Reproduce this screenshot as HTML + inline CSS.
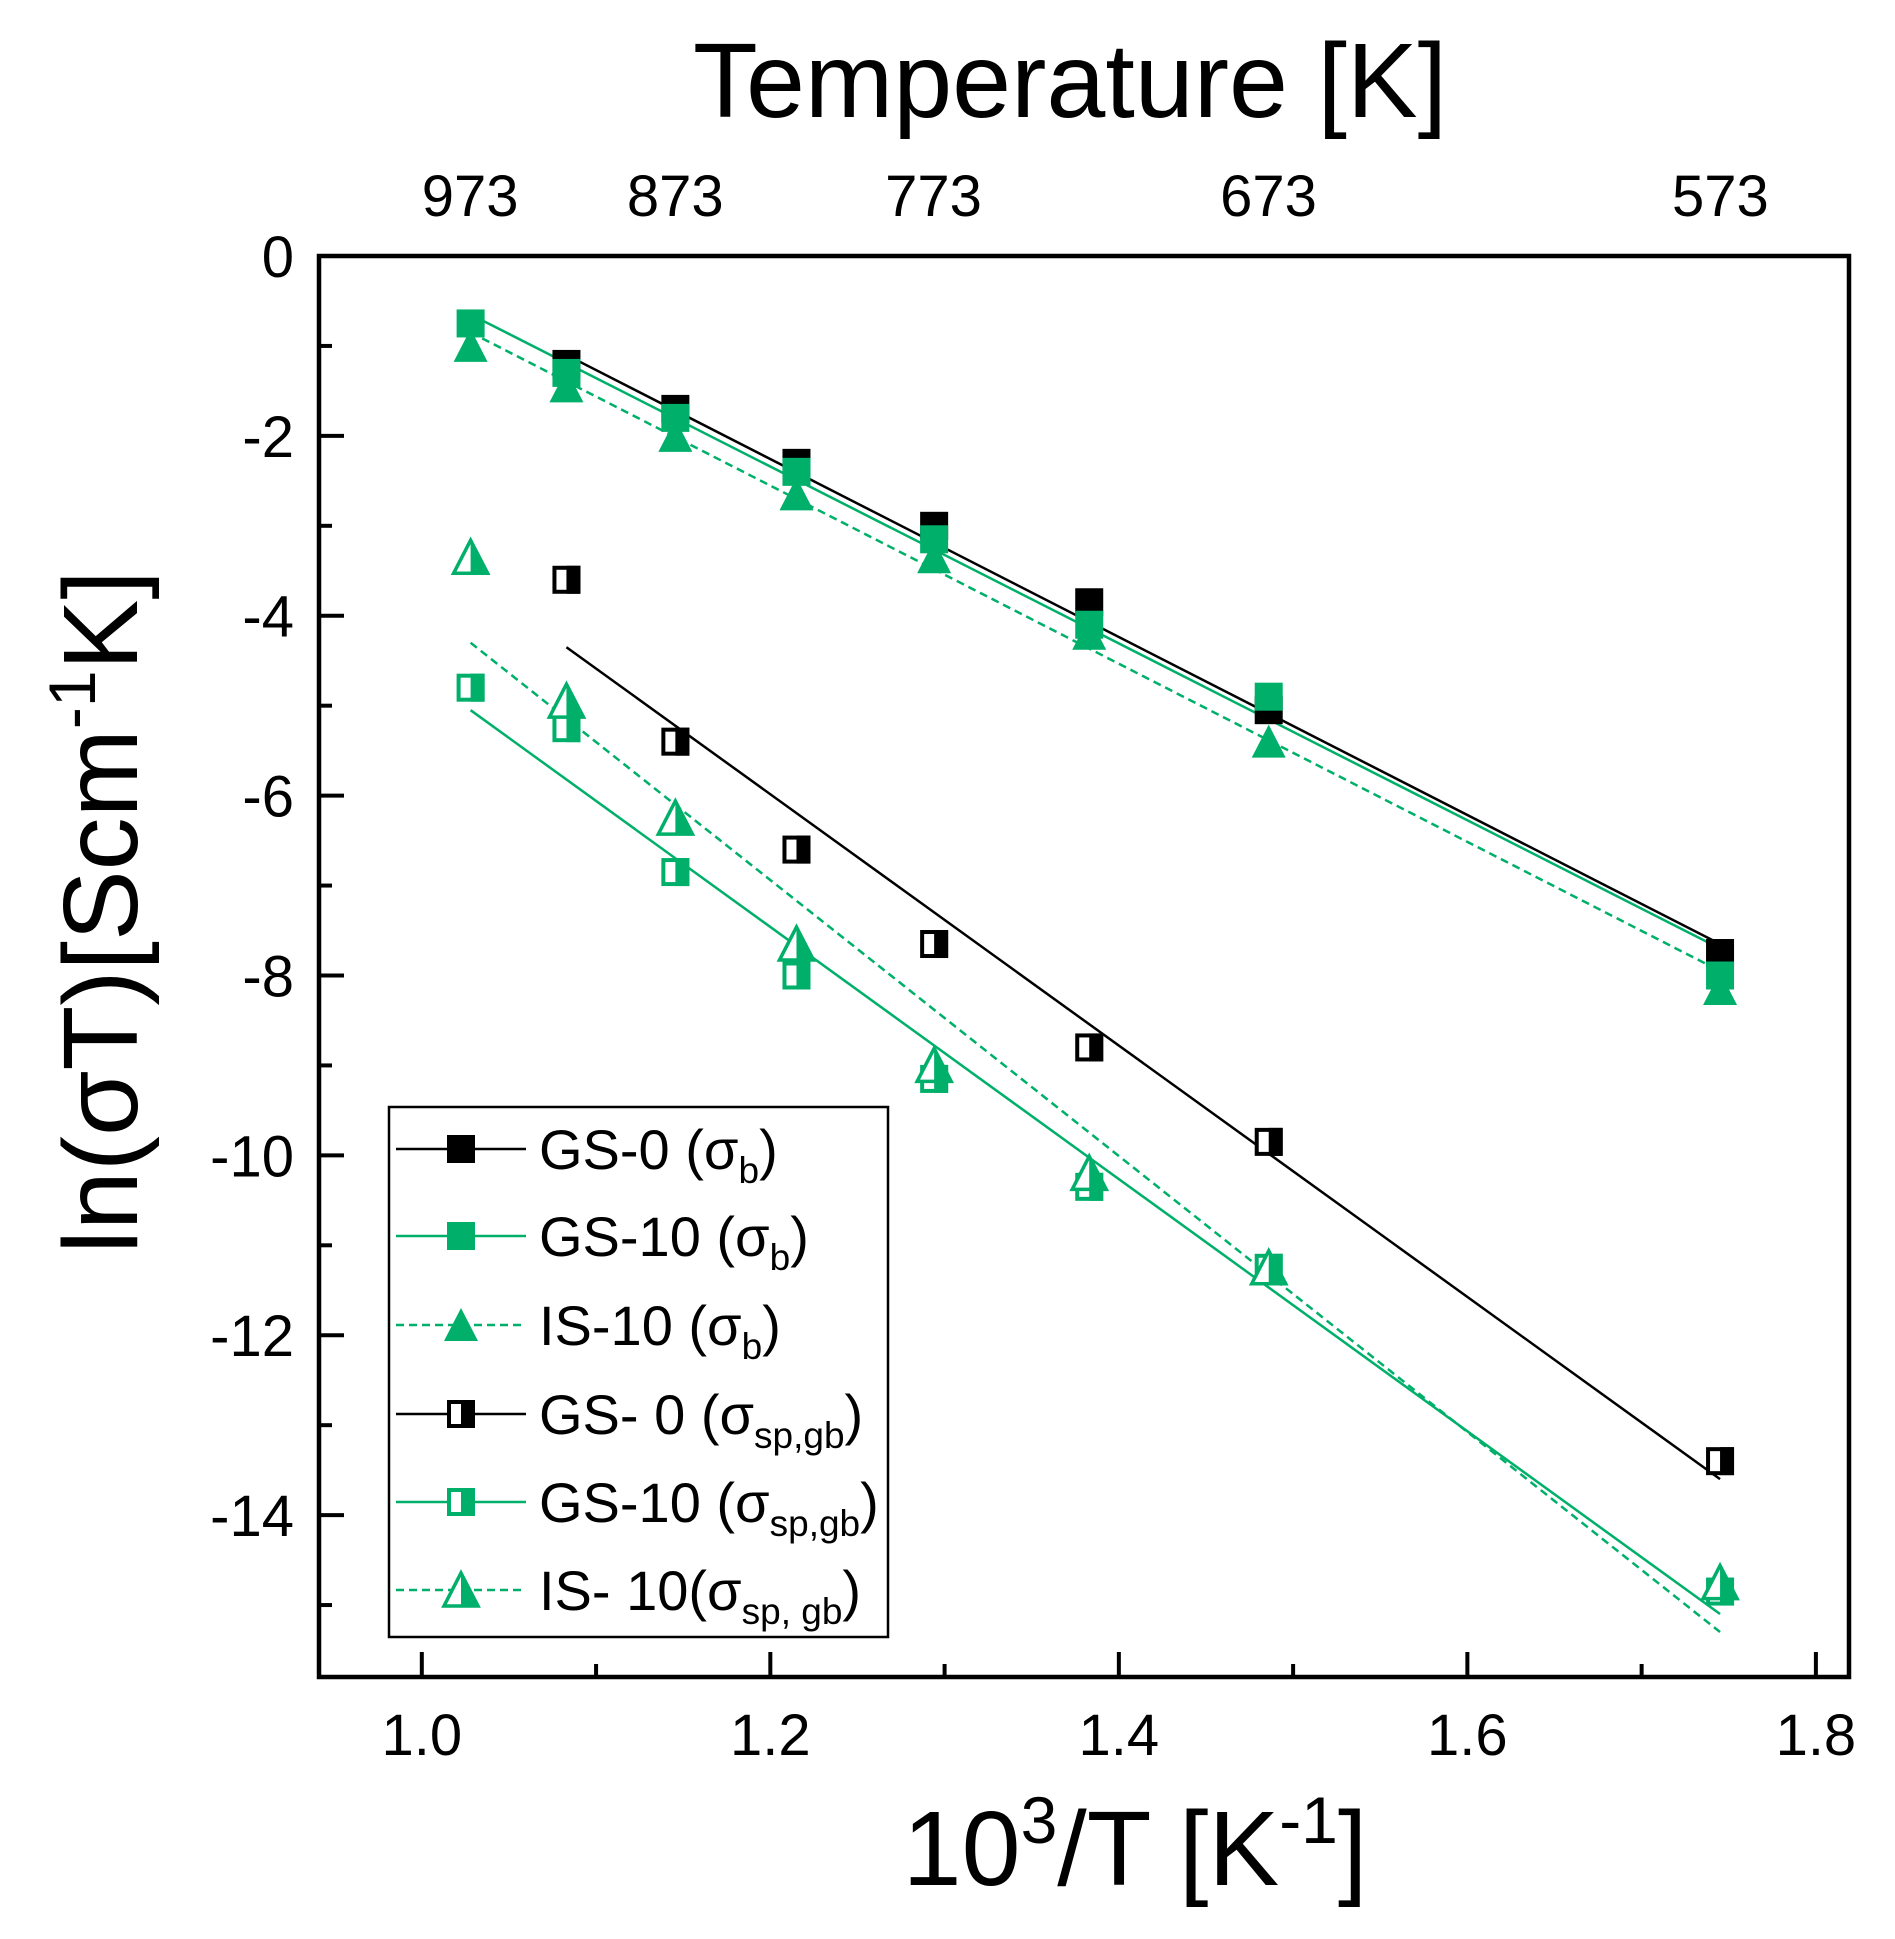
<!DOCTYPE html>
<html><head><meta charset="utf-8"><style>
html,body{margin:0;padding:0;background:#fff}
svg{display:block;font-family:"Liberation Sans",Arial,sans-serif}
</style></head><body>
<svg id="chart" width="1895" height="1939" viewBox="0 0 1895 1939" xmlns="http://www.w3.org/2000/svg">
<g id="plot"></g>
</svg>
<script>
const xs = [1.028, 1.083, 1.1455, 1.215, 1.294, 1.383, 1.486, 1.745];
const gs0b = [null, -1.2, -1.7, -2.3, -3.0, -3.85, -5.05, -7.75];
const gs10b = [-0.75, -1.3, -1.8, -2.4, -3.15, -4.1, -4.9, -8.0];
const is10b = [-1.0, -1.45, -2.0, -2.65, -3.35, -4.2, -5.4, -8.15];
const gs0gb = [null, -3.6, -5.4, -6.6, -7.65, -8.8, -9.85, -13.4];
const gs10gb = [-4.8, -5.25, -6.85, -8.0, -9.15, -10.35, -11.25, -14.85];
const is10gb = [-3.35, -4.95, -6.25, -7.65, -9.0, -10.2, -11.25, -14.75];
const fitX = [[1.083,1.745],[1.028,1.745],[1.028,1.745],[1.083,1.745],[1.028,1.745],[1.028,1.745]];
const fitY = [[-1.1,-7.65],[-0.65,-7.7],[-0.85,-7.95],[-4.35,-13.6],[-5.05,-15.1],[-4.3,-15.3]];
const xTicks = [1.0, 1.2, 1.4, 1.6, 1.8];
const yTicks = [0, -2, -4, -6, -8, -10, -12, -14];
const topTemps = [973, 873, 773, 673, 573];

const G = '#00b06a';
const X0 = 319, X1 = 1849, Y0 = 256, Y1 = 1677;
const xmin = 0.941, xmax = 1.819, ymin = -15.8, ymax = 0;
const sx = v => X0 + (v - xmin) / (xmax - xmin) * (X1 - X0);
const sy = v => Y0 + (ymax - v) / (ymax - ymin) * (Y1 - Y0);
const NS = 'http://www.w3.org/2000/svg';
const svg = document.getElementById('chart');
function mk(tag, attrs, parent) {
  const e = document.createElementNS(NS, tag);
  for (const k in attrs) e.setAttribute(k, attrs[k]);
  (parent || svg).appendChild(e);
  return e;
}
function txt(x, y, s, size, anchor, name) {
  const t = mk('text', {x: x, y: y, 'font-size': size, 'text-anchor': anchor || 'middle', fill: '#000'});
  t.textContent = s;
  
  
  return t;
}
const fitStyles = [['#000',''],[G,''],[G,'8,5'],['#000',''],[G,''],[G,'8,5']];
const fitNames = ['fit-gs0-b','fit-gs10-b','fit-is10-b','fit-gs0-gb','fit-gs10-gb','fit-is10-gb'];
for (let i = 0; i < 6; i++) {
  const l = mk('line', {x1: sx(fitX[i][0]), y1: sy(fitY[i][0]), x2: sx(fitX[i][1]), y2: sy(fitY[i][1]), stroke: fitStyles[i][0], 'stroke-width': 2.5, 'stroke-dasharray': fitStyles[i][1]});
  
  
}
const S = 14;
function marker(cx, cy, shape, color, half, name, parent) {
  const g = mk('g', {}, parent);
  
  
  if (shape === 'sq') {
    if (half) {
      mk('rect', {x: cx - S + 2, y: cy - S + 2, width: 2*S - 4, height: 2*S - 4, fill: '#fff', stroke: color, 'stroke-width': 4}, g);
      mk('rect', {x: cx, y: cy - S, width: S, height: 2*S, fill: color}, g);
    } else {
      mk('rect', {x: cx - S, y: cy - S, width: 2*S, height: 2*S, fill: color}, g);
    }
  } else {
    const h = 17;
    const pts = `${cx},${cy-h} ${cx+h},${cy+h-1} ${cx-h},${cy+h-1}`;
    if (half) {
      mk('polygon', {points: pts, fill: '#fff', stroke: color, 'stroke-width': 3.5}, g);
      mk('polygon', {points: `${cx},${cy-h} ${cx+h},${cy+h-1} ${cx},${cy+h-1}`, fill: color}, g);
    } else {
      mk('polygon', {points: pts, fill: color}, g);
    }
  }
}
const series = [[gs0b,'sq','#000',false,'gs0-b'],[gs10b,'sq',G,false,'gs10-b'],[is10b,'tri',G,false,'is10-b'],
  [gs0gb,'sq','#000',true,'gs0-gb'],[gs10gb,'sq',G,true,'gs10-gb'],[is10gb,'tri',G,true,'is10-gb']];
series.forEach(s => {
  s[0].forEach((v, i) => { if (v !== null) marker(sx(xs[i]), sy(v), s[1], s[2], s[3], 'point-' + s[4]); });
});
const fr = mk('rect', {x: X0, y: Y0, width: X1 - X0, height: Y1 - Y0, fill: 'none', stroke: '#000', 'stroke-width': 4.5});


for (let k = 0; k <= 8; k++) {
  const v = 1.0 + k * 0.1;
  const major = k % 2 === 0;
  const t = mk('line', {x1: sx(v), x2: sx(v), y1: Y1, y2: Y1 - (major ? 25 : 13), stroke: '#000', 'stroke-width': 4});
  
  
}
xTicks.forEach(v => txt(sx(v), 1755, v.toFixed(1), 58, 'middle', 'x-tick-label'));
for (let v = 0; v >= -15; v--) {
  const major = v % 2 === 0;
  const t = mk('line', {x1: X0, x2: X0 + (major ? 25 : 13), y1: sy(v), y2: sy(v), stroke: '#000', 'stroke-width': 4});
  
  
}
yTicks.forEach(v => txt(294, sy(v) + 21, String(v), 58, 'end', 'y-tick-label'));
topTemps.forEach(T => txt(sx(1000 / T), 216, String(T), 58, 'middle', 'top-tick-label'));
txt(1070, 117, 'Temperature [K]', 106, 'middle', 'top-axis-title');
const xt = mk('text', {x: 1135, y: 1885, 'font-size': 106, 'text-anchor': 'middle'});
xt.innerHTML = '10<tspan dy="-42" font-size="66">3</tspan><tspan dy="42">/T [K</tspan><tspan dy="-42" font-size="66">-1</tspan><tspan dy="42">]</tspan>';


const yt = mk('text', {x: 0, y: 0, 'font-size': 106, 'text-anchor': 'middle', transform: 'translate(137,912) rotate(-90)'});
yt.innerHTML = 'ln(σT)[Scm<tspan dy="-42" font-size="66">-1</tspan><tspan dy="42">K]</tspan>';


const lg = mk('g', {});


mk('rect', {x: 389, y: 1107, width: 499, height: 530, fill: '#fff', stroke: '#000', 'stroke-width': 2.5}, lg);
const labels = [['GS-0 (σ','b',')'],['GS-10 (σ','b',')'],[' IS-10 (σ','b',')'],['GS- 0 (σ','sp,gb',')'],['GS-10 (σ','sp,gb',')'],[' IS- 10(σ','sp, gb',')']];
const rowsY = [1149, 1236, 1325, 1414, 1502, 1590];
series.forEach((s, i) => {
  const y = rowsY[i];
  const l = mk('line', {x1: 396, x2: 526, y1: y, y2: y, stroke: fitStyles[i][0], 'stroke-width': 2.5, 'stroke-dasharray': fitStyles[i][1]}, lg);
  
  
  marker(461, y, s[1], s[2], s[3], 'legend-marker', lg);
  const t = mk('text', {x: 539, y: y + 20, 'font-size': 56, 'text-anchor': 'start'}, lg);
  t.innerHTML = labels[i][0] + '<tspan dy="14" font-size="37">' + labels[i][1] + '</tspan><tspan dy="-14">' + labels[i][2] + '</tspan>';
  
  
});
</script>
</body></html>
